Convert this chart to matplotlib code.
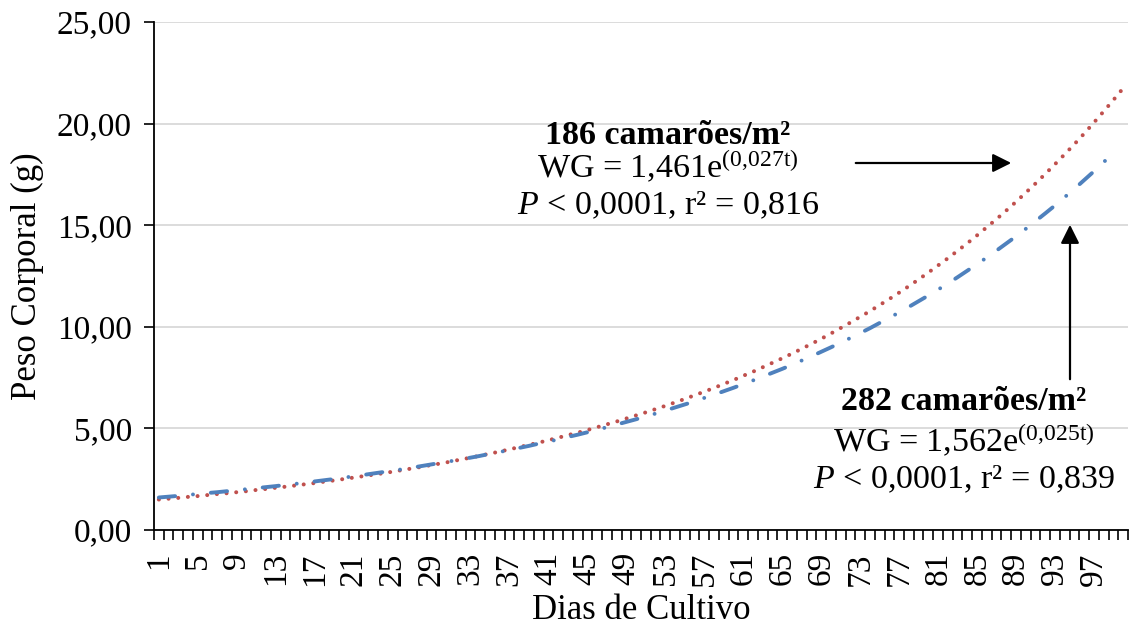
import matplotlib
matplotlib.use("Agg")
import matplotlib.pyplot as plt

# dias de cultivo (1..100) e peso corporal
dias = list(range(1, 101))

peso_186 = [1.50, 1.54, 1.58, 1.63, 1.67, 1.72, 1.77, 1.81, 1.86, 1.91,
            1.97, 2.02, 2.08, 2.13, 2.19, 2.25, 2.31, 2.38, 2.44, 2.51,
            2.58, 2.65, 2.72, 2.79, 2.87, 2.95, 3.03, 3.11, 3.20, 3.28,
            3.37, 3.47, 3.56, 3.66, 3.76, 3.86, 3.97, 4.08, 4.19, 4.30,
            4.42, 4.54, 4.67, 4.79, 4.92, 5.06, 5.20, 5.34, 5.49, 5.64,
            5.79, 5.95, 6.11, 6.28, 6.45, 6.63, 6.81, 6.99, 7.19, 7.38,
            7.59, 7.79, 8.01, 8.23, 8.45, 8.68, 8.92, 9.16, 9.41, 9.67,
            9.94, 10.21, 10.49, 10.77, 11.07, 11.37, 11.68, 12.00, 12.33, 12.67,
            13.02, 13.37, 13.74, 14.11, 14.50, 14.90, 15.30, 15.72, 16.15, 16.60,
            17.05, 17.52, 18.00, 18.49, 18.99, 19.51, 20.05, 20.60, 21.16, 21.74]

peso_282 = [1.60, 1.64, 1.68, 1.73, 1.77, 1.82, 1.86, 1.91, 1.96, 2.01,
            2.06, 2.11, 2.16, 2.22, 2.27, 2.33, 2.39, 2.45, 2.51, 2.58,
            2.64, 2.71, 2.78, 2.85, 2.92, 2.99, 3.07, 3.15, 3.23, 3.31,
            3.39, 3.48, 3.56, 3.65, 3.75, 3.84, 3.94, 4.04, 4.14, 4.25,
            4.35, 4.46, 4.58, 4.69, 4.81, 4.93, 5.06, 5.19, 5.32, 5.45,
            5.59, 5.73, 5.88, 6.03, 6.18, 6.33, 6.50, 6.66, 6.83, 7.00,
            7.18, 7.36, 7.55, 7.74, 7.93, 8.13, 8.34, 8.55, 8.77, 8.99,
            9.22, 9.45, 9.69, 9.93, 10.19, 10.44, 10.71, 10.98, 11.26, 11.54,
            11.83, 12.13, 12.44, 12.76, 13.08, 13.41, 13.75, 14.10, 14.45, 14.82,
            15.20, 15.58, 15.97, 16.38, 16.79, 17.22, 17.65, 18.10, 18.56]

rotulos_x = dias[::4]
ticks_y = [0, 5, 10, 15, 20, 25]

plt.rcParams['font.family'] = ['Liberation Serif', 'DejaVu Serif']
plt.rcParams['mathtext.fontset'] = 'custom'
plt.rcParams['mathtext.rm'] = 'Liberation Serif'
plt.rcParams['mathtext.it'] = 'Liberation Serif:italic'
plt.rcParams['mathtext.bf'] = 'Liberation Serif:bold'

W, H = 1134, 630
fig = plt.figure(figsize=(W / 100, H / 100), dpi=100)
ax = fig.add_axes([154 / W, 1 - 530 / H, 974 / W, 508 / H])

# curvas
ax.plot(dias, peso_186, color="#C0504D", linewidth=2.9,
        linestyle=(0, (0.01, 2.4)), dash_capstyle="round")
ax.plot(dias[:len(peso_282)], peso_282, color="#4F81BD", linewidth=2.8,
        linestyle=(0, (4.2, 4.6, 0.01, 4.6)), dash_capstyle="round")

ax.set_xlim(0.5, 100.5)
ax.set_ylim(0, 25)

# eixo y
ax.set_yticks(ticks_y)
ax.set_yticklabels([f"{v:.2f}".replace(".", ",") for v in ticks_y], fontsize=24)
ax.yaxis.grid(True, color="#d9d9d9", linewidth=1.3)
ax.set_axisbelow(True)
ax.tick_params(axis="y", direction="out", length=7, width=1.2, pad=9)

# eixo x: marcas entre categorias, rotulos a cada 4 dias
ax.set_xticks(rotulos_x)
ax.set_xticklabels([str(d) for d in rotulos_x], rotation=90, fontsize=24)
ax.set_xticks([d + 0.5 for d in [0] + dias], minor=True)
ax.tick_params(axis="x", which="major", length=0, pad=16)
ax.tick_params(axis="x", which="minor", direction="out", length=7, width=1.2)

for s in ["top", "right"]:
    ax.spines[s].set_visible(False)
for s in ["left", "bottom"]:
    ax.spines[s].set_linewidth(1.3)
    ax.spines[s].set_color("black")

ax.set_xlabel("Dias de Cultivo", fontsize=25, labelpad=6)
ax.set_ylabel("Peso Corporal (g)", fontsize=25, labelpad=9)

# anotacoes
def ftxt(x, y, s, **kw):
    fig.text(x / W, 1 - y / H, s, ha="center", va="baseline", fontsize=24.5, **kw)

ftxt(668, 144, "186 camarões/m²", fontweight="bold")
ftxt(668, 178, r"WG = 1,461e$^{(0{,}027\mathrm{t})}$")
ftxt(668, 214, r"$\mathit{P}$ < 0,0001, r² = 0,816")

ftxt(964, 410, "282 camarões/m²", fontweight="bold")
ftxt(964, 452, r"WG = 1,562e$^{(0{,}025\mathrm{t})}$")
ftxt(964, 488, r"$\mathit{P}$ < 0,0001, r² = 0,839")

seta = dict(arrowstyle="-|>", color="black", lw=1.6, mutation_scale=28)
ax.annotate("", xy=(1014, H - 163), xytext=(853, H - 163),
            xycoords="figure pixels", textcoords="figure pixels", arrowprops=seta)
ax.annotate("", xy=(1070, H - 222), xytext=(1070, H - 382),
            xycoords="figure pixels", textcoords="figure pixels", arrowprops=seta)

fig.savefig("out.png", dpi=100)
